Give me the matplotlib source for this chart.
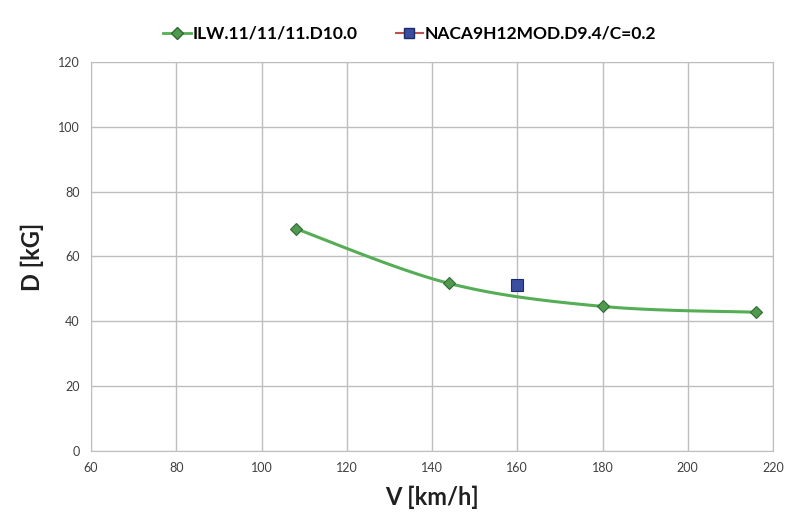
import numpy as np
import matplotlib.pyplot as plt
from matplotlib.lines import Line2D

plt.rcParams['font.family'] = ['Lato', 'DejaVu Sans']

# data
v_ilw = [108, 144, 180, 216]
d_ilw = [68.6, 51.7, 44.6, 42.8]
v_naca = [160]
d_naca = [51.3]

x_ticks = [60, 80, 100, 120, 140, 160, 180, 200, 220]
y_ticks = [0, 20, 40, 60, 80, 100, 120]


def smooth(xs, ys, n=40):
    # Catmull-Rom style smoothing, like a spreadsheet "smoothed line"
    p = np.column_stack([xs, ys]).astype(float)
    p = np.vstack([p[0], p, p[-1]])
    out = []
    for i in range(1, len(p) - 2):
        p0, p1, p2, p3 = p[i - 1], p[i], p[i + 1], p[i + 2]
        c1 = p1 + (p2 - p0) / 6
        c2 = p2 - (p3 - p1) / 6
        t = np.linspace(0, 1, n)[:, None]
        seg = ((1 - t) ** 3) * p1 + 3 * ((1 - t) ** 2) * t * c1 + 3 * (1 - t) * t ** 2 * c2 + t ** 3 * p2
        out.append(seg)
    out = np.vstack(out)
    return out[:, 0], out[:, 1]


fig = plt.figure(figsize=(7.88, 5.21), dpi=100)
ax = fig.add_axes([0.1155, 0.1344, 0.8655, 0.7466])

sx, sy = smooth(v_ilw, d_ilw)
ax.plot(sx, sy, color='#55AD55', lw=2.2, zorder=3)
ax.plot(v_ilw, d_ilw, ls='none', marker='D', ms=6, mfc='#4F9A4F',
        mec='#2F6A2F', mew=0.8, zorder=4)
ax.plot(v_naca, d_naca, ls='none', marker='s', ms=8, mfc='#3B4DA0',
        mec='#1E2A66', mew=0.8, zorder=4)

ax.set_xlim(60, 220)
ax.set_ylim(0, 120)
ax.set_xticks(x_ticks)
ax.set_yticks(y_ticks)
ax.grid(True, color='#BEBEBE', lw=1)
ax.set_axisbelow(True)
for s in ax.spines.values():
    s.set_color('#BEBEBE')
ax.tick_params(length=0, labelsize=9, colors='#404040', pad=8)

ax.set_xlabel('V [km/h]', fontsize=17, fontweight='bold', color='#202020', labelpad=8)
ax.set_ylabel('D [kG]', fontsize=17, fontweight='bold', color='#202020', labelpad=10)

handles = [
    Line2D([], [], color='#55AD55', lw=2, marker='D', ms=6, mfc='#4F9A4F', mec='#2F6A2F'),
    Line2D([], [], color='#C0504D', lw=1.5, marker='s', ms=7, mfc='#3B4DA0', mec='#1E2A66'),
]
fig.legend(handles, ['ILW.11/11/11.D10.0', 'NACA9H12MOD.D9.4/C=0.2'],
           loc='center', bbox_to_anchor=(0.52, 0.935), ncol=2, frameon=False,
           prop={'size': 12.5, 'weight': 'bold'}, handlelength=1.6,
           handletextpad=0.1, columnspacing=2.2)

fig.savefig('out.png', dpi=100)
